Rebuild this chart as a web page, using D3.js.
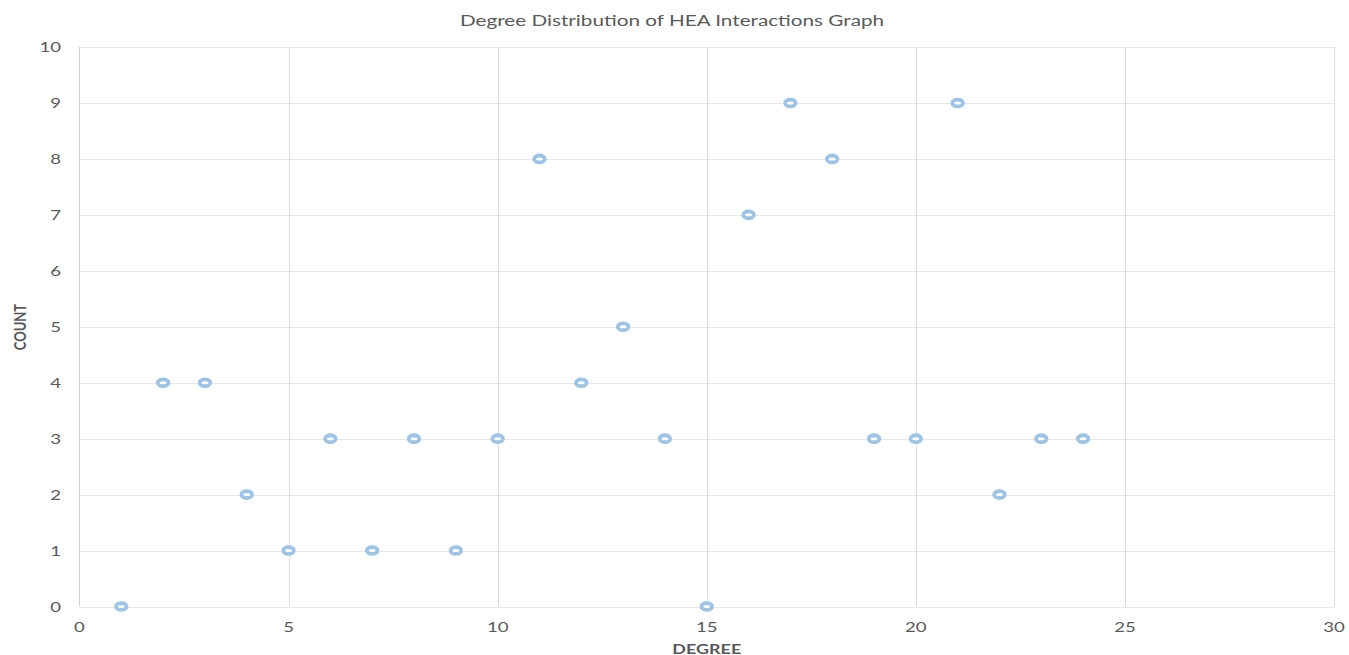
<!DOCTYPE html>
<html><head><meta charset="utf-8">
<script src="https://cdn.jsdelivr.net/npm/d3@7"></script>
<style>body{margin:0;background:#fff;} text{font-family:Lato,"Open Sans",sans-serif;}</style>
</head><body>
<svg id="c" width="1349" height="655"></svg>
<script>
const degrees = [1,2,3,4,5,6,7,8,9,10,11,12,13,14,15,16,17,18,19,20,21,22,23,24];
const counts  = [0,4,4,2,1,3,1,3,1,3,8,4,5,3,0,7,9,8,3,3,9,2,3,3];
const xTicks = [0,5,10,15,20,25,30];
const yTicks = [0,1,2,3,4,5,6,7,8,9,10];
const title = "Degree Distribution of HEA Interactions Graph";

const svg = d3.select("#c");
const L = 79.5, R = 1334, T = 47, B = 606.5;
const SX = 1.33;
const x = d3.scaleLinear().domain([0,30]).range([L,R]);
const y = d3.scaleLinear().domain([0,10]).range([B,T]);

// horizontal gridlines
svg.append("g").selectAll("line").data(yTicks).join("line")
  .attr("x1",L).attr("x2",R).attr("y1",d=>Math.round(y(d))+0.5).attr("y2",d=>Math.round(y(d))+0.5)
  .attr("stroke","#e8e8e8").attr("stroke-width",1);
// vertical gridlines
svg.append("g").selectAll("line").data(xTicks.filter(d=>d>0)).join("line")
  .attr("x1",d=>Math.round(x(d))+0.5).attr("x2",d=>Math.round(x(d))+0.5).attr("y1",T).attr("y2",B)
  .attr("stroke","#dcdcdc").attr("stroke-width",1);
// left axis line
svg.append("line").attr("x1",L).attr("x2",L).attr("y1",T).attr("y2",B).attr("stroke","#d0d0d0");

// y tick labels
svg.append("g").selectAll("g").data(yTicks).join("g")
  .attr("transform",d=>`translate(61,${y(d)}) scale(${SX},1)`)
  .append("text").attr("dy","0.36em").attr("text-anchor","end")
  .attr("font-size",14).attr("fill","#595959").text(d=>d);
// x tick labels
svg.append("g").selectAll("g").data(xTicks).join("g")
  .attr("transform",d=>`translate(${x(d)},627) scale(${SX},1)`)
  .append("text").attr("dy","0.36em").attr("text-anchor","middle")
  .attr("font-size",14).attr("fill","#595959").text(d=>d);

// axis titles
svg.append("g").attr("transform",`translate(${x(15)},649) scale(${SX},1)`)
  .append("text").attr("dy","0.36em").attr("text-anchor","middle")
  .attr("font-size",13.5).attr("font-weight","bold").attr("fill","#595959").text("DEGREE");
svg.append("g").attr("transform",`translate(20,327) scale(${SX},1) rotate(-90)`)
  .append("text").attr("dy","0.36em").attr("text-anchor","middle")
  .attr("font-size",13).attr("font-weight","bold").attr("fill","#595959").text("COUNT");
// title
svg.append("g").attr("transform",`translate(672,21) scale(1.38,1)`)
  .append("text").attr("dy","0.36em").attr("text-anchor","middle")
  .attr("font-size",15).attr("fill","#595959").text(title);

// points
svg.append("g").selectAll("ellipse").data(degrees.map((d,i)=>[d,counts[i]])).join("ellipse")
  .attr("cx",d=>x(d[0])).attr("cy",d=>y(d[1])).attr("rx",5.3).attr("ry",3.4)
  .attr("fill","#fff").attr("stroke","#9dc3e6").attr("stroke-width",3.8);
</script>
</body></html>
